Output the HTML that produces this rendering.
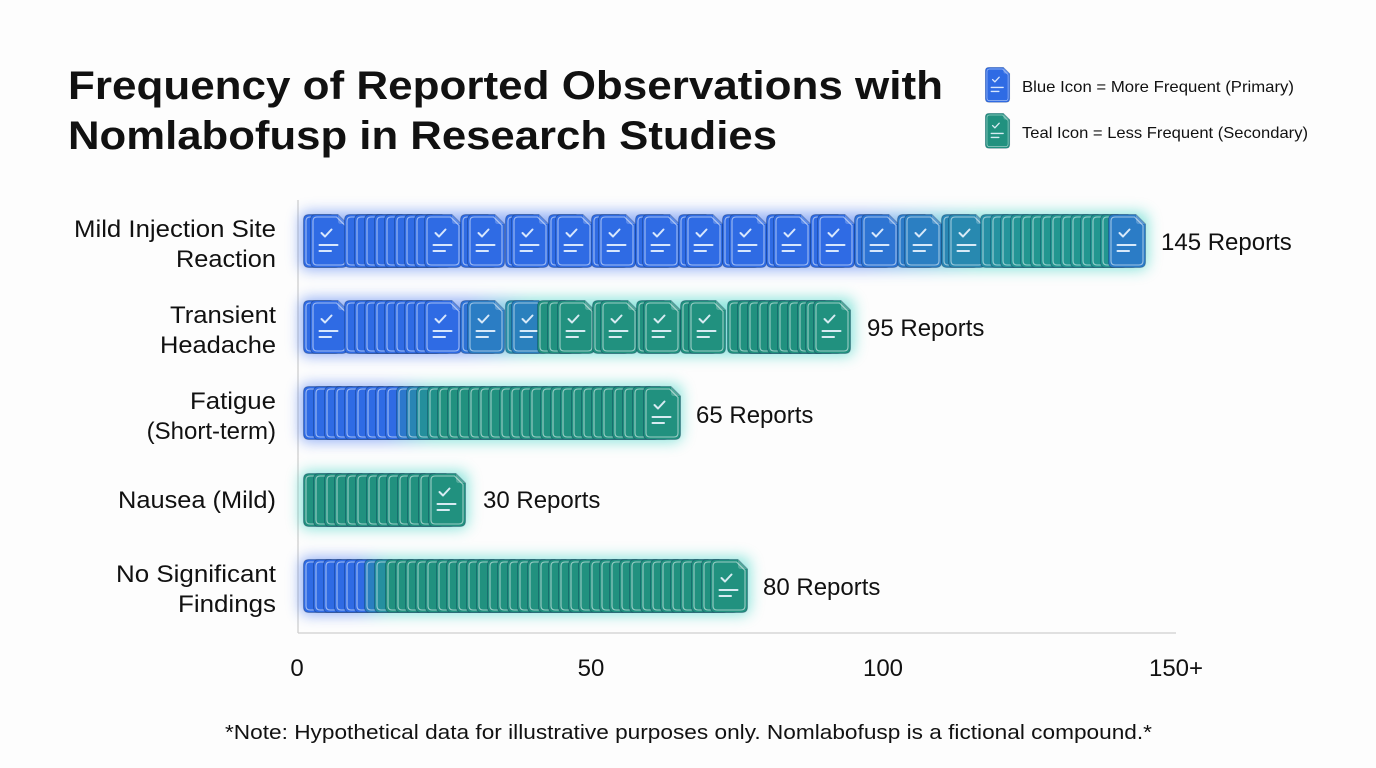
<!DOCTYPE html>
<html>
<head>
<meta charset="utf-8">
<style>
html,body{margin:0;padding:0;background:#fdfdfd;}
svg{display:block;}
text{font-family:"Liberation Sans",Arial,sans-serif;fill:#111;}
</style>
</head>
<body>
<svg width="1376" height="768" viewBox="0 0 1376 768" xmlns="http://www.w3.org/2000/svg">
<defs>
  <filter id="blur" x="-10%" y="-60%" width="120%" height="220%"><feGaussianBlur stdDeviation="7"/></filter>
  <g id="ic">
    <path d="M6,0.5 H28 L37.5,10 V48 Q37.5,53.5 32,53.5 H6 Q0.5,53.5 0.5,48 V6 Q0.5,0.5 6,0.5Z" fill="currentColor" stroke="rgba(0,25,70,0.28)" stroke-width="1"/>
    <path d="M7,3 H26.5 L35,11.5 V47 Q35,51 31,51 H7 Q3,51 3,47 V7 Q3,3 7,3Z" fill="none" stroke="rgba(255,255,255,0.55)" stroke-width="1.1"/>
    <path d="M28,0.5 V7 Q28,10 31,10 H37.5Z" fill="rgba(255,255,255,0.22)"/>
  </g>
  <g id="icg">
    <use href="#ic"/>
    <polyline points="11.5,19 15,22.5 21.5,15.5" fill="none" stroke="rgba(235,245,255,0.9)" stroke-width="2" stroke-linecap="round" stroke-linejoin="round"/>
    <line x1="9.5" y1="31" x2="27.5" y2="31" stroke="rgba(235,245,255,0.9)" stroke-width="2" stroke-linecap="round"/>
    <line x1="9.5" y1="37" x2="21" y2="37" stroke="rgba(235,245,255,0.9)" stroke-width="2" stroke-linecap="round"/>
  </g>
  <linearGradient id="g1" gradientUnits="userSpaceOnUse" x1="300" y1="0" x2="1150" y2="0">
    <stop offset="0" stop-color="#3d72f0"/><stop offset="0.66" stop-color="#3d72f0"/><stop offset="0.8" stop-color="#2fd0c0"/><stop offset="1" stop-color="#2fd0c0"/>
  </linearGradient>
  <linearGradient id="g2" gradientUnits="userSpaceOnUse" x1="300" y1="0" x2="855" y2="0">
    <stop offset="0" stop-color="#3d72f0"/><stop offset="0.3" stop-color="#3d72f0"/><stop offset="0.42" stop-color="#2fd0c0"/><stop offset="1" stop-color="#2fd0c0"/>
  </linearGradient>
  <linearGradient id="g3" gradientUnits="userSpaceOnUse" x1="300" y1="0" x2="682" y2="0">
    <stop offset="0" stop-color="#3d72f0"/><stop offset="0.22" stop-color="#3d72f0"/><stop offset="0.35" stop-color="#2fd0c0"/><stop offset="1" stop-color="#2fd0c0"/>
  </linearGradient>
  <linearGradient id="g5" gradientUnits="userSpaceOnUse" x1="300" y1="0" x2="750" y2="0">
    <stop offset="0" stop-color="#3d72f0"/><stop offset="0.12" stop-color="#3d72f0"/><stop offset="0.2" stop-color="#2fd0c0"/><stop offset="1" stop-color="#2fd0c0"/>
  </linearGradient>
</defs>

<!-- Title -->
<text x="68" y="99" font-size="40" font-weight="bold" textLength="875" lengthAdjust="spacingAndGlyphs">Frequency of Reported Observations with</text>
<text x="68" y="149" font-size="40" font-weight="bold" textLength="709" lengthAdjust="spacingAndGlyphs">Nomlabofusp in Research Studies</text>

<!-- Legend -->
<use href="#icg" transform="translate(985,67) scale(0.66)" style="color:#2f6be4"/>
<text x="1022" y="92" font-size="16" textLength="272" lengthAdjust="spacingAndGlyphs">Blue Icon = More Frequent (Primary)</text>
<use href="#icg" transform="translate(985,113) scale(0.66)" style="color:#21917f"/>
<text x="1022" y="138" font-size="16" textLength="286" lengthAdjust="spacingAndGlyphs">Teal Icon = Less Frequent (Secondary)</text>

<!-- Axes -->
<line x1="298" y1="200" x2="298" y2="633" stroke="#cfcfcf" stroke-width="1.3"/>
<line x1="298" y1="633" x2="1176" y2="633" stroke="#cfcfcf" stroke-width="1.3"/>

<!-- Category labels -->
<g font-size="24" text-anchor="end">
<text x="276" y="237" textLength="202" lengthAdjust="spacingAndGlyphs">Mild Injection Site</text>
<text x="276" y="267" textLength="100" lengthAdjust="spacingAndGlyphs">Reaction</text>
<text x="276" y="323" textLength="106" lengthAdjust="spacingAndGlyphs">Transient</text>
<text x="276" y="353" textLength="116" lengthAdjust="spacingAndGlyphs">Headache</text>
<text x="276" y="409" textLength="86" lengthAdjust="spacingAndGlyphs">Fatigue</text>
<text x="276" y="439">(Short-term)</text>
<text x="276" y="508" textLength="158" lengthAdjust="spacingAndGlyphs">Nausea (Mild)</text>
<text x="276" y="582" textLength="160" lengthAdjust="spacingAndGlyphs">No Significant</text>
<text x="276" y="612" textLength="98" lengthAdjust="spacingAndGlyphs">Findings</text>
</g>

<!-- Glows -->
<g filter="url(#blur)" opacity="0.55">
<rect x="300" y="212" width="848" height="58" rx="8" fill="url(#g1)"/>
<rect x="300" y="298" width="554" height="58" rx="8" fill="url(#g2)"/>
<rect x="300" y="384" width="382" height="58" rx="8" fill="url(#g3)"/>
<rect x="300" y="471" width="168" height="58" rx="8" fill="#2fd0c0"/>
<rect x="300" y="557" width="450" height="58" rx="8" fill="url(#g5)"/>
</g>

<!-- Row 1 -->
<g transform="translate(0,214)">
<g style="color:#2f6be4">
<use href="#ic" x="303"/><use href="#icg" x="310"/>
<use href="#ic" x="344"/><use href="#ic" x="354"/><use href="#ic" x="364"/><use href="#ic" x="374"/><use href="#ic" x="384"/><use href="#ic" x="394"/><use href="#ic" x="404"/><use href="#ic" x="414"/>
<use href="#icg" x="424"/>
<use href="#ic" x="460"/><use href="#icg" x="467"/>
<use href="#ic" x="505"/><use href="#icg" x="511"/>
<use href="#ic" x="548"/><use href="#icg" x="555"/>
<use href="#ic" x="591"/><use href="#icg" x="598"/>
<use href="#ic" x="635"/><use href="#icg" x="642"/>
<use href="#ic" x="678"/><use href="#icg" x="685"/>
<use href="#ic" x="722"/><use href="#icg" x="729"/>
<use href="#ic" x="766"/><use href="#icg" x="773"/>
<use href="#ic" x="810"/><use href="#icg" x="817"/>
</g>
<use href="#ic" x="854" style="color:#2e70da"/><use href="#icg" x="861" style="color:#2d74d3"/>
<use href="#ic" x="897" style="color:#2c7bc8"/><use href="#icg" x="904" style="color:#2b7fc2"/>
<use href="#ic" x="941" style="color:#2987b4"/><use href="#icg" x="948" style="color:#2889b0"/>
<use href="#ic" x="980" style="color:#2690a5"/><use href="#ic" x="990" style="color:#2592a0"/><use href="#ic" x="1000" style="color:#24949b"/><use href="#ic" x="1010" style="color:#239596"/>
<g style="color:#229690">
<use href="#ic" x="1020"/><use href="#ic" x="1030"/><use href="#ic" x="1040"/><use href="#ic" x="1050"/><use href="#ic" x="1060"/><use href="#ic" x="1070"/><use href="#ic" x="1080"/><use href="#ic" x="1090"/><use href="#ic" x="1100"/>
</g>
<use href="#icg" x="1108" style="color:#2b7cc6"/>
</g>

<!-- Row 2 -->
<g transform="translate(0,300)">
<g style="color:#2f6be4">
<use href="#ic" x="303"/><use href="#icg" x="310"/>
<use href="#ic" x="344"/><use href="#ic" x="354"/><use href="#ic" x="364"/><use href="#ic" x="374"/><use href="#ic" x="384"/><use href="#ic" x="394"/><use href="#ic" x="404"/><use href="#ic" x="414"/>
<use href="#icg" x="424"/>
</g>
<use href="#ic" x="460" style="color:#2d72d6"/><use href="#icg" x="467" style="color:#2b7dc4"/>
<use href="#ic" x="505" style="color:#278ea8"/><use href="#icg" x="511" style="color:#2a80bd"/>
<g style="color:#21917f">
<use href="#ic" x="537"/><use href="#ic" x="547"/><use href="#icg" x="557"/>
<use href="#ic" x="592"/><use href="#icg" x="600"/>
<use href="#ic" x="636"/><use href="#icg" x="643"/>
<use href="#ic" x="680"/><use href="#icg" x="688"/>
<use href="#ic" x="727"/><use href="#ic" x="737"/><use href="#ic" x="747"/><use href="#ic" x="757"/><use href="#ic" x="767"/><use href="#ic" x="777"/><use href="#ic" x="787"/><use href="#ic" x="797"/><use href="#ic" x="805"/>
<use href="#icg" x="813"/>
</g>
</g>

<!-- Row 3 -->
<g transform="translate(0,386)">
<g style="color:#2f6be4">
<use href="#ic" x="303"/><use href="#ic" x="313"/><use href="#ic" x="324"/><use href="#ic" x="334"/><use href="#ic" x="344"/><use href="#ic" x="355"/><use href="#ic" x="365"/><use href="#ic" x="375"/><use href="#ic" x="385"/>
</g>
<use href="#ic" x="396" style="color:#2c78cc"/><use href="#ic" x="406" style="color:#2985b4"/><use href="#ic" x="416" style="color:#248f9c"/><use href="#ic" x="427" style="color:#22918a"/>
<g style="color:#21917f">
<use href="#ic" x="437"/><use href="#ic" x="447"/><use href="#ic" x="457"/><use href="#ic" x="468"/><use href="#ic" x="478"/><use href="#ic" x="488"/><use href="#ic" x="499"/><use href="#ic" x="509"/><use href="#ic" x="519"/><use href="#ic" x="529"/><use href="#ic" x="540"/><use href="#ic" x="550"/><use href="#ic" x="560"/><use href="#ic" x="571"/><use href="#ic" x="581"/><use href="#ic" x="591"/><use href="#ic" x="601"/><use href="#ic" x="612"/><use href="#ic" x="622"/><use href="#ic" x="632"/>
<use href="#icg" x="643"/>
</g>
</g>

<!-- Row 4 -->
<g transform="translate(0,473)" style="color:#21917f">
<use href="#ic" x="303"/><use href="#ic" x="313"/><use href="#ic" x="324"/><use href="#ic" x="334"/><use href="#ic" x="345"/><use href="#ic" x="355"/><use href="#ic" x="366"/><use href="#ic" x="376"/><use href="#ic" x="386"/><use href="#ic" x="397"/><use href="#ic" x="407"/><use href="#ic" x="418"/>
<use href="#icg" x="428"/>
</g>

<!-- Row 5 -->
<g transform="translate(0,559)">
<g style="color:#2f6be4">
<use href="#ic" x="303"/><use href="#ic" x="313"/><use href="#ic" x="323"/><use href="#ic" x="334"/><use href="#ic" x="344"/><use href="#ic" x="354"/>
</g>
<use href="#ic" x="364" style="color:#2a7fc0"/><use href="#ic" x="374" style="color:#25909f"/>
<g style="color:#21917f">
<use href="#ic" x="385"/><use href="#ic" x="395"/><use href="#ic" x="405"/><use href="#ic" x="415"/><use href="#ic" x="425"/><use href="#ic" x="436"/><use href="#ic" x="446"/><use href="#ic" x="456"/><use href="#ic" x="466"/><use href="#ic" x="476"/><use href="#ic" x="487"/><use href="#ic" x="497"/><use href="#ic" x="507"/><use href="#ic" x="517"/><use href="#ic" x="527"/><use href="#ic" x="538"/><use href="#ic" x="548"/><use href="#ic" x="558"/><use href="#ic" x="568"/><use href="#ic" x="578"/><use href="#ic" x="589"/><use href="#ic" x="599"/><use href="#ic" x="609"/><use href="#ic" x="619"/><use href="#ic" x="629"/><use href="#ic" x="640"/><use href="#ic" x="650"/><use href="#ic" x="660"/><use href="#ic" x="670"/><use href="#ic" x="680"/><use href="#ic" x="691"/><use href="#ic" x="701"/>
<use href="#icg" x="710"/>
</g>
</g>

<!-- Value labels -->
<g font-size="24">
<text x="1161" y="250">145 Reports</text>
<text x="867" y="336">95 Reports</text>
<text x="696" y="423">65 Reports</text>
<text x="483" y="508">30 Reports</text>
<text x="763" y="595">80 Reports</text>
</g>

<!-- Tick labels -->
<g font-size="24" text-anchor="middle">
<text x="297" y="676">0</text>
<text x="591" y="676">50</text>
<text x="883" y="676">100</text>
<text x="1176" y="676">150+</text>
</g>

<!-- Footnote -->
<text x="225" y="739" font-size="20" textLength="927" lengthAdjust="spacingAndGlyphs">*Note: Hypothetical data for illustrative purposes only. Nomlabofusp is a fictional compound.*</text>
</svg>
</body>
</html>
